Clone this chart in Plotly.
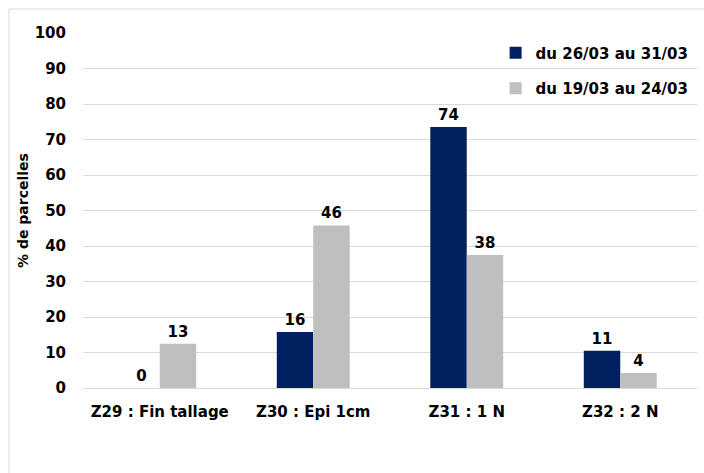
import plotly.graph_objects as go

categories = ["Z29 : Fin tallage", "Z30 : Epi 1cm", "Z31 : 1 N", "Z32 : 2 N"]
series1_name = "du 26/03 au 31/03"
series1_values = [0, 15.8, 73.5, 10.5]
series1_labels = ["0", "16", "74", "11"]
series2_name = "du 19/03 au 24/03"
series2_values = [12.5, 45.8, 37.5, 4.2]
series2_labels = ["13", "46", "38", "4"]
y_ticks = [0, 10, 20, 30, 40, 50, 60, 70, 80, 90, 100]

FONT = "DejaVu Sans"
font_b = dict(family=FONT, size=15, color="#000000", weight="bold")

fig = go.Figure()
fig.add_trace(go.Bar(
    x=categories, y=series1_values, name=series1_name,
    marker=dict(color="#002060", line=dict(width=0)),
    text=series1_labels, textposition="outside", textfont=font_b,
    cliponaxis=False, legendgroup="a",
))
fig.add_trace(go.Bar(
    x=categories, y=series2_values, name=series2_name,
    marker=dict(color="#BFBFBF", line=dict(width=0)),
    text=series2_labels, textposition="outside", textfont=font_b,
    cliponaxis=False, legendgroup="b",
))

fig.update_layout(
    width=704, height=473,
    margin=dict(l=83, r=7, t=33, b=85),
    paper_bgcolor="white", plot_bgcolor="white",
    barmode="group", bargap=0.525, bargroupgap=0,
    font=dict(family=FONT, size=15, color="#000000"),
    showlegend=True,
    legend=dict(
        x=0.672, y=0.99, xanchor="left", yanchor="top",
        font=dict(family=FONT, size=15, color="#000000", weight="bold"),
        bgcolor="rgba(0,0,0,0)", traceorder="grouped", tracegroupgap=13,
        itemwidth=30,
    ),
    xaxis=dict(
        showgrid=False, showline=False, zeroline=False,
        tickfont=font_b, ticks="", ticklabelstandoff=13,
    ),
    yaxis=dict(
        range=[0, 100], tickvals=y_ticks, showgrid=True,
        gridcolor="#D9D9D9", gridwidth=1, zeroline=True,
        zerolinecolor="#D9D9D9", zerolinewidth=1, showline=False,
        tickfont=font_b, ticks="", ticklabelstandoff=16,
        title=dict(text="% de parcelles", standoff=2,
                   font=dict(family=FONT, size=14, color="#000000", weight="bold")),
    ),
    shapes=[dict(
        type="rect", xref="paper", yref="paper",
        x0=-74 / 614, x1=1.05, y0=-0.3, y1=1 + 24 / 355,
        line=dict(color="#D9D9D9", width=1), fillcolor="rgba(0,0,0,0)",
        layer="below",
    )],
)

fig.write_html("out.html")
